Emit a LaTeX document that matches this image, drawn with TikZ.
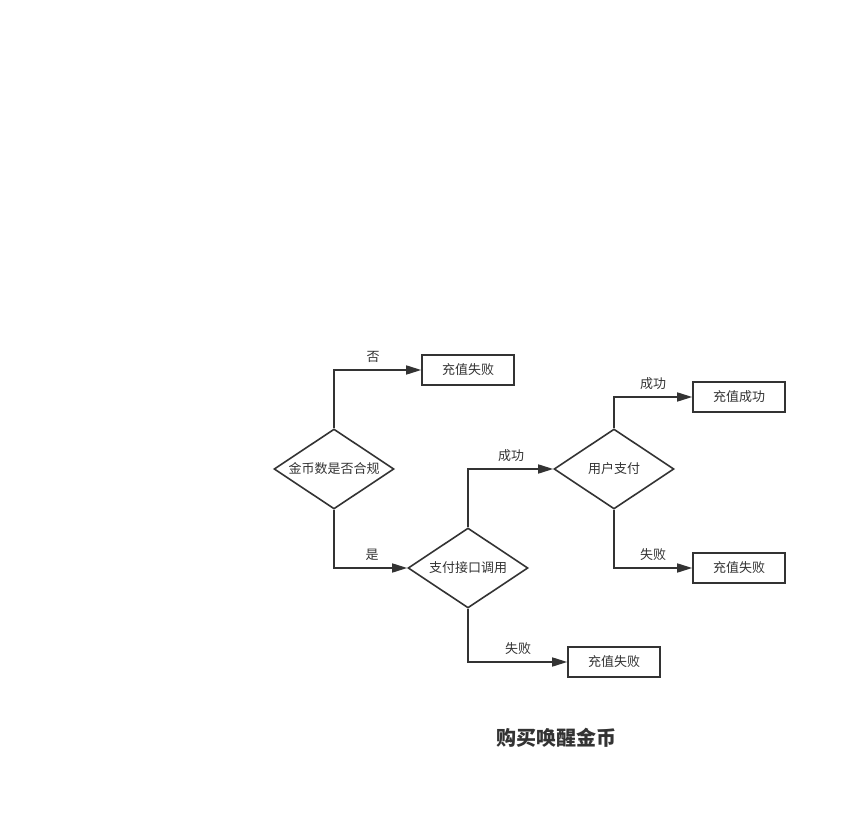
\documentclass[tikz,border=0pt]{standalone}
\usepackage{fontspec}
\setmainfont{Noto Sans CJK SC}
\usetikzlibrary{shapes.geometric,arrows.meta}
\definecolor{ink}{HTML}{333333}
\newcommand{\dn}[1]{\raisebox{-1pt}{#1}}
\tikzset{
  dia/.style={diamond,draw=ink,line width=1.6pt,minimum width=120pt,minimum height=80pt,aspect=1.5,inner sep=0pt,font=\fontsize{13pt}{13pt}\selectfont,text=ink},
  box/.style={rectangle,draw=ink,line width=1.6pt,minimum width=92pt,minimum height=30pt,inner sep=0pt,font=\fontsize{13pt}{13pt}\selectfont,text=ink},
  conn/.style={draw=ink,line width=1.6pt,-{Triangle[length=15pt,width=9pt]}},
  lbl/.style={font=\fontsize{13pt}{13pt}\selectfont,text=ink}
}
\begin{document}
\begin{tikzpicture}[x=1pt,y=-1pt]
\useasboundingbox (0,0) rectangle (847,818);
\node[dia] (d1) at (334,469) {\dn{金币数是否合规}};
\node[dia] (d2) at (468,568) {\dn{支付接口调用}};
\node[dia] (d3) at (614,469) {\dn{用户支付}};
\node[box] (f1) at (468,370) {\dn{充值失败}};
\node[box] (s1) at (739,397) {\dn{充值成功}};
\node[box] (f2) at (739,568) {\dn{充值失败}};
\node[box] (f3) at (614,662) {\dn{充值失败}};
\draw[conn] (d1.north) |- (f1.west);
\draw[conn] (d1.south) |- (d2.west);
\draw[conn] (d2.north) |- (d3.west);
\draw[conn] (d2.south) |- (f3.west);
\draw[conn] (d3.north) |- (s1.west);
\draw[conn] (d3.south) |- (f2.west);
\node[lbl] (l1) at (373,357) {否};
\node[lbl] (l2) at (372,555) {是};
\node[lbl] (l3) at (511,456) {成功};
\node[lbl] (l4) at (518,649) {失败};
\node[lbl] (l5) at (653,384) {成功};
\node[lbl] (l6) at (653,555) {失败};
\node[font=\fontsize{20pt}{20pt}\selectfont\bfseries,text=ink] (title) at (556,738) {购买唤醒金币};
\end{tikzpicture}
\end{document}
